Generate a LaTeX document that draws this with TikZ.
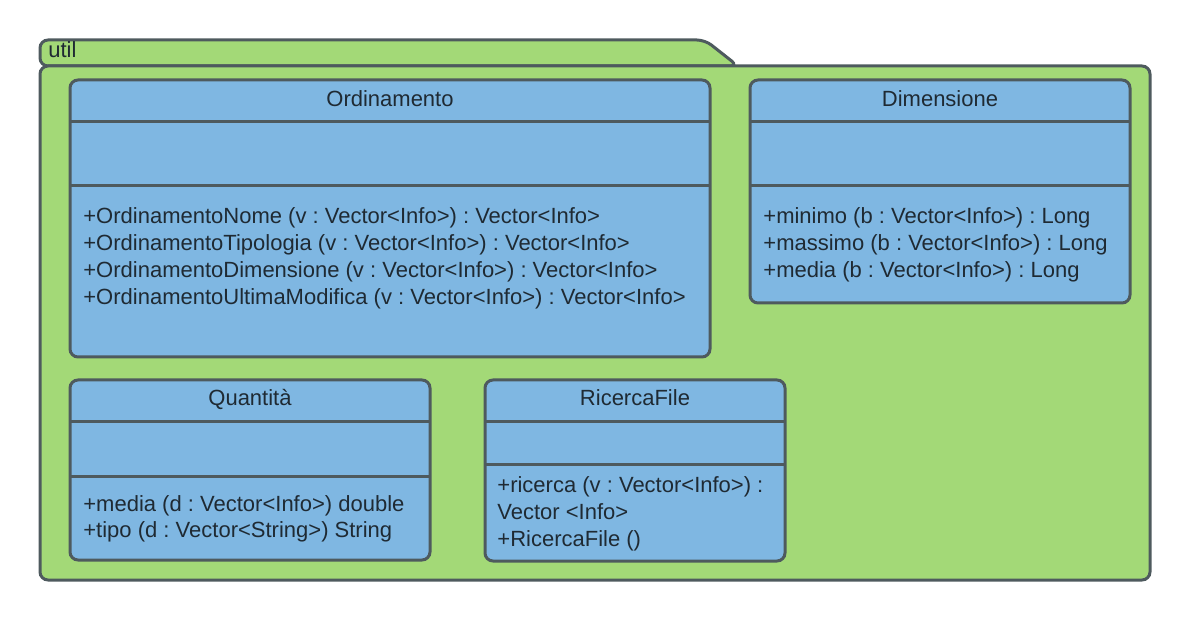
\documentclass[tikz,border=0pt]{standalone}
\usepackage{fontspec}
\setmainfont{Liberation Sans}
\frenchspacing
\definecolor{pkgfill}{HTML}{A3D977}
\definecolor{clsfill}{HTML}{7FB7E2}
\definecolor{edge}{HTML}{4E5A5E}
\definecolor{ink}{HTML}{1F2A33}
\tikzset{
  pkg/.style={draw=edge, fill=pkgfill, line width=1.5pt, rounded corners=4pt},
  classbox/.style={draw=edge, fill=clsfill, line width=1.5pt, rounded corners=4pt},
  divider/.style={draw=edge, line width=1.5pt},
  title/.style={text=ink, font=\fontsize{11}{13.5}\selectfont, inner sep=0pt, anchor=base},
  ops/.style={text=ink, font=\fontsize{11}{13.5}\selectfont, inner sep=0pt, anchor=base west}
}
\begin{document}
\begin{tikzpicture}[x=0.5pt,y=-0.5pt]
\useasboundingbox (0,0) rectangle (1190,620);
% package util
\draw[pkg] (40,66) -- (40,40) -- (705,40) -- (738,66) -- cycle;
\draw[pkg] (40,66) rectangle (1150,580);
\node[title, anchor=base west] (utillbl) at (48,58) {util};

% Ordinamento
\draw[classbox] (70,80) rectangle (710,357);
\draw[divider] (70,122) -- (710,122);
\draw[divider] (70,186) -- (710,186);
\node[title] (ordtitle) at (390,107) {Ordinamento};
\foreach \txt [count=\i] in {+OrdinamentoNome (v : Vector<Info>) : Vector<Info>,
  +OrdinamentoTipologia (v : Vector<Info>) : Vector<Info>,
  +OrdinamentoDimensione (v : Vector<Info>) : Vector<Info>,
  +OrdinamentoUltimaModifica (v : Vector<Info>) : Vector<Info>}
  \node[ops] (ord-\i) at (83,{224+27*(\i-1)}) {\txt};

% Dimensione
\draw[classbox] (750,80) rectangle (1130,303);
\draw[divider] (750,122) -- (1130,122);
\draw[divider] (750,186) -- (1130,186);
\node[title] (dimtitle) at (940,107) {Dimensione};
\foreach \txt [count=\i] in {+minimo (b : Vector<Info>) : Long,
  +massimo (b : Vector<Info>) : Long,
  +media (b : Vector<Info>) : Long}
  \node[ops] (dim-\i) at (763,{224+27*(\i-1)}) {\txt};

% Quantita
\draw[classbox] (70,380) rectangle (430,560);
\draw[divider] (70,422) -- (430,422);
\draw[divider] (70,477) -- (430,477);
\node[title] (qtytitle) at (250,406) {Quantità};
\foreach \txt [count=\i] in {+media (d : Vector<Info>) double,
  +tipo (d : Vector<String>) String}
  \node[ops] (qty-\i) at (83,{511+27*(\i-1)}) {\txt};

% RicercaFile
\draw[classbox] (485,380) rectangle (785,561);
\draw[divider] (485,422) -- (785,422);
\draw[divider] (485,465) -- (785,465);
\node[title] (rictitle) at (635,406) {RicercaFile};
\foreach \txt [count=\i] in {+ricerca (v : Vector<Info>) :,
  Vector <Info>,
  +RicercaFile ()}
  \node[ops] (ric-\i) at (497,{493+26.5*(\i-1)}) {\txt};
\end{tikzpicture}
\end{document}
